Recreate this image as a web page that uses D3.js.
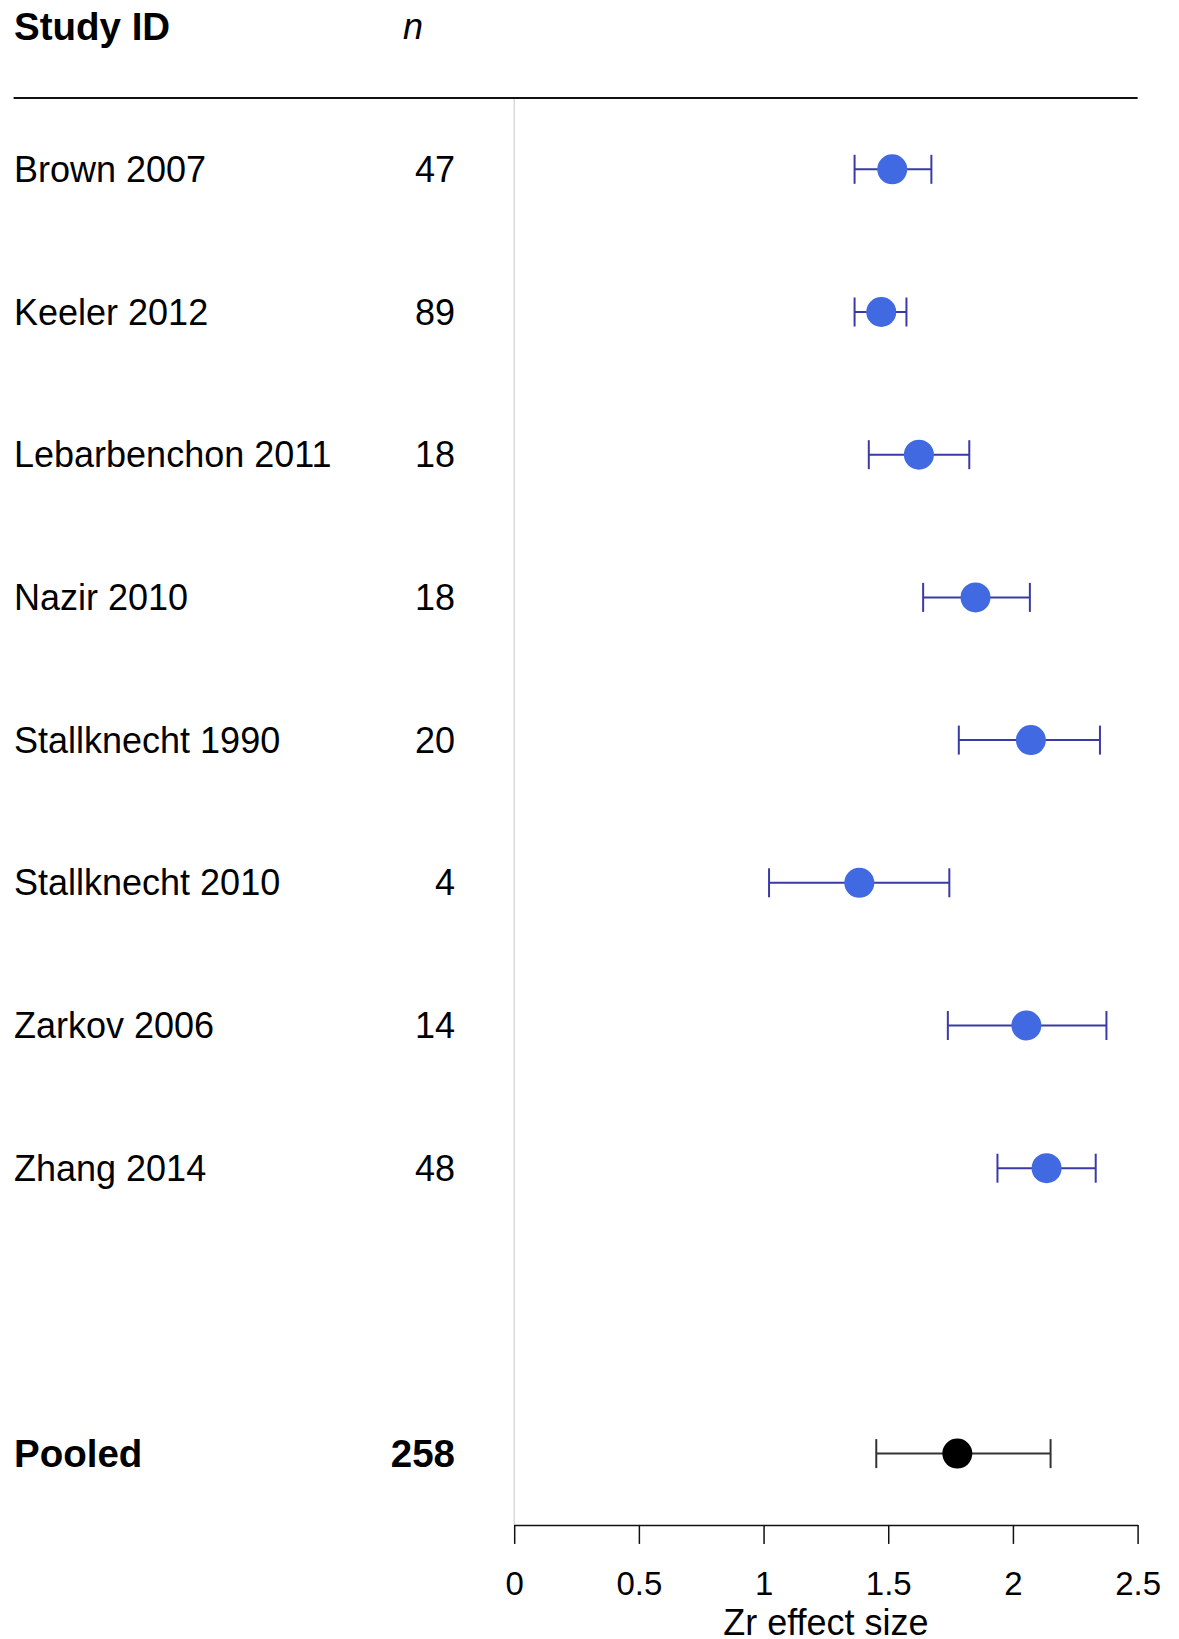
<!DOCTYPE html>
<html>
<head>
<meta charset="utf-8">
<script src="https://cdn.jsdelivr.net/npm/d3@7"></script>
<style>
  body { margin: 0; background: #fff; }
  svg { display: block; font-family: "Liberation Sans", Arial, sans-serif; }
</style>
</head>
<body>
<svg id="chart" width="1179" height="1639"></svg>
<script>
// Forest plot: Zr effect sizes with 95% CI per study, plus pooled estimate.

const studies  = ['Brown 2007', 'Keeler 2012', 'Lebarbenchon 2011', 'Nazir 2010',
                  'Stallknecht 1990', 'Stallknecht 2010', 'Zarkov 2006', 'Zhang 2014'];
const nValues  = [47, 89, 18, 18, 20, 4, 14, 48];
const effect   = [1.516, 1.472, 1.623, 1.850, 2.072, 1.384, 2.054, 2.135];
const ciLower  = [1.365, 1.365, 1.422, 1.640, 1.783, 1.022, 1.739, 1.938];
const ciUpper  = [1.673, 1.573, 1.825, 2.068, 2.349, 1.745, 2.375, 2.332];

const pooled   = { label: 'Pooled', n: 258, effect: 1.777, lo: 1.452, hi: 2.151 };

const xTicks   = [0, 0.5, 1, 1.5, 2, 2.5];
const xLabel   = 'Zr effect size';

// ---------------------------------------------------------------------------
// Layout
// ---------------------------------------------------------------------------

const svg = d3.select('#chart');

const LABEL_X = 14;
const N_X     = 455;   // right edge of n column
const N_HEAD_X = 413;
const ROW0_Y  = 169.3;
const ROW_H   = 142.7;
const POOLED_ROW = 9;

const x = d3.scaleLinear().domain([0, 2.5]).range([514.2, 1137.6]);
const y = d3.scaleLinear().domain([0, 1]).range([ROW0_Y, ROW0_Y + ROW_H]);

const FS  = 36;    // regular text
const FSB = 38.5;  // bold text
const R   = 15;    // point radius
const CAP = 14.5;  // half height of CI caps

const topY = y(-0.5);
const axisY = y(POOLED_ROW + 0.5);

// Header
svg.append('text')
  .attr('x', LABEL_X).attr('y', y(-1))
  .attr('dy', '0.35em')
  .attr('font-size', FSB).attr('font-weight', 'bold')
  .text('Study ID');

svg.append('text')
  .attr('x', N_HEAD_X).attr('y', y(-1))
  .attr('dy', '0.35em')
  .attr('text-anchor', 'middle')
  .attr('font-size', FS).attr('font-style', 'italic')
  .text('n');

// Header rule and vertical zero line
svg.append('line')
  .attr('x1', 13.6).attr('x2', x(2.5))
  .attr('y1', topY).attr('y2', topY)
  .attr('stroke', '#111').attr('stroke-width', 2);

svg.append('line')
  .attr('x1', x(0)).attr('x2', x(0))
  .attr('y1', topY + 1).attr('y2', axisY)
  .attr('stroke', '#d0d0d0').attr('stroke-width', 1.2);

// ---------------------------------------------------------------------------
// Rows
// ---------------------------------------------------------------------------

const rows = studies.map((s, i) => ({
  label: s, n: nValues[i], effect: effect[i], lo: ciLower[i], hi: ciUpper[i], row: i
}));

function drawRow(d, opts) {
  const cy = y(d.row);
  const g = svg.append('g');

  g.append('text')
    .attr('x', LABEL_X).attr('y', cy).attr('dy', '0.35em')
    .attr('font-size', opts.bold ? FSB : FS)
    .attr('font-weight', opts.bold ? 'bold' : 'normal')
    .text(d.label);

  g.append('text')
    .attr('x', N_X).attr('y', cy).attr('dy', '0.35em')
    .attr('text-anchor', 'end')
    .attr('font-size', opts.bold ? FSB : FS)
    .attr('font-weight', opts.bold ? 'bold' : 'normal')
    .text(d.n);

  // CI whisker + caps
  g.append('line')
    .attr('x1', x(d.lo)).attr('x2', x(d.hi))
    .attr('y1', cy).attr('y2', cy)
    .attr('stroke', opts.line).attr('stroke-width', 2);
  for (const v of [d.lo, d.hi]) {
    g.append('line')
      .attr('x1', x(v)).attr('x2', x(v))
      .attr('y1', cy - CAP).attr('y2', cy + CAP)
      .attr('stroke', opts.line).attr('stroke-width', 2);
  }

  g.append('circle')
    .attr('cx', x(d.effect)).attr('cy', cy).attr('r', R)
    .attr('fill', opts.fill);
}

rows.forEach(d => drawRow(d, { fill: '#4169E1', line: '#3a3aa6', bold: false }));
drawRow({ ...pooled, row: POOLED_ROW }, { fill: '#000', line: '#333', bold: true });

// ---------------------------------------------------------------------------
// X axis
// ---------------------------------------------------------------------------

const axis = d3.axisBottom(x)
  .tickValues(xTicks)
  .tickFormat(d3.format('~g'))
  .tickSize(19)
  .tickSizeOuter(0)
  .tickPadding(27.5);

const gAxis = svg.append('g')
  .attr('transform', `translate(0,${axisY})`)
  .call(axis);

gAxis.select('.domain').attr('stroke', '#111').attr('stroke-width', 1.5);
gAxis.selectAll('.tick line').attr('stroke', '#111').attr('stroke-width', 1.5);
gAxis.selectAll('.tick text')
  .attr('fill', '#000')
  .attr('font-family', '"Liberation Sans", Arial, sans-serif')
  .attr('font-size', 33);

svg.append('text')
  .attr('x', (x(0) + x(2.5)) / 2).attr('y', 1622)
  .attr('dy', '0.35em')
  .attr('text-anchor', 'middle')
  .attr('font-size', 36)
  .text(xLabel);
</script>
</body>
</html>
